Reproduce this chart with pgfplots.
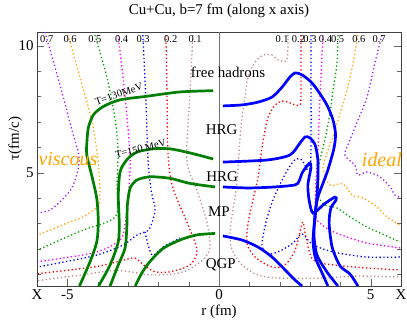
\documentclass[border=0pt]{standalone}
\usepackage{fontspec}
\setmainfont{Liberation Serif}
\usepackage{pgfplots}
\pgfplotsset{compat=1.18}
\usetikzlibrary{calc}
\definecolor{c07}{HTML}{A020F0}
\definecolor{c06}{HTML}{FFA500}
\definecolor{c05}{HTML}{00A000}
\definecolor{c04}{HTML}{FF00FF}
\definecolor{c03}{HTML}{0000FF}
\definecolor{c02}{HTML}{FF0000}
\definecolor{c01}{HTML}{BC8F8F}
\definecolor{visc}{HTML}{007F00}
\definecolor{ideal}{HTML}{0000FF}
\definecolor{word}{HTML}{FFA500}
\pgfplotsset{
  dots/.style={line width=1.3bp, dash pattern=on 1.3bp off 2.5bp, smooth, tension=0.5},
  iso/.style={line width=2.7bp, smooth, tension=0.45},
}
\newcommand\bigf{\fontsize{15}{18}\selectfont}
\newcommand\smlf{\fontsize{10.5}{12}\selectfont}
\begin{document}
\begin{tikzpicture}
\begin{axis}[
  width=364bp, height=254bp, scale only axis,
  xmin=-6, xmax=6, ymin=0.54, ymax=10.54,
  xtick={-6,-5,0,5,6}, xticklabels={X,-5,0,5,X},
  minor xtick={-4,-3,-2,-1,1,2,3,4},
  ytick={5,10}, minor ytick={1,2,3,4,6,7,8,9},
  xtick pos=left,
  tick align=inside, major tick length=7bp, minor tick length=4bp,
  axis line style={black!75, line width=0.8bp}, tick style={black!60},
  /pgf/number format/assume math mode=true,
  tick label style={font=\bigf},
  title={Cu+Cu, b=7 fm (along x axis)},
  title style={font=\bigf, at={(axis description cs:0.5,1)}, anchor=south, yshift=5bp},
  xlabel={r (fm)}, ylabel={τ(fm/c)},
  xlabel style={font=\bigf, at={(axis description cs:0.5,0)}, anchor=center, yshift=-26bp},
  ylabel style={font=\bigf, at={(axis description cs:-0.06,0.58)}, anchor=center},
  clip=false]
\coordinate (bl) at (rel axis cs:0,0);
\coordinate (tr) at (rel axis cs:1,1);
\addplot[black!55, line width=0.8bp] coordinates {(0,0.54) (0,10.54)};
% viscous side, velocity contours
\addplot[dots, c07] coordinates {(-5.74,10.54) (-5.24,8.45) (-4.85,6.68) (-4.62,5.70) (-4.65,5.11) (-4.85,4.40) (-5.18,3.93) (-5.57,3.53) (-5.97,3.41)};
\addplot[dots, c06] coordinates {(-4.98,10.42) (-4.58,8.73) (-4.19,7.04) (-3.99,5.50) (-3.92,4.04) (-4.02,3.65) (-4.48,3.26) (-5.01,3.02) (-5.57,2.74) (-5.97,2.55)};
\addplot[dots, c05] coordinates {(-4.09,10.42) (-3.69,8.73) (-3.43,7.15) (-3.33,5.89) (-3.36,4.59) (-3.36,3.41) (-3.69,3.06) (-4.48,2.74) (-5.24,2.35) (-5.97,1.96)};
\addplot[dots, c04] coordinates {(-3.33,10.42) (-3.10,8.06) (-2.93,5.50) (-3.00,4.00) (-3.10,2.94) (-3.26,2.35) (-4.02,1.88) (-5.14,1.64) (-5.97,1.50)};
\addplot[dots, c03] coordinates {(-2.51,10.42) (-2.41,7.86) (-2.34,5.50) (-2.24,4.32) (-2.11,3.53) (-2.28,2.82) (-2.44,2.67) (-2.70,2.55) (-3.17,2.15) (-4.02,1.76) (-5.14,1.48) (-5.97,1.29)};
\addplot[dots, c03] coordinates {(-2.44,2.67) (-2.21,1.76) (-1.85,2.07) (-1.29,2.43)};
\addplot[dots, c02] coordinates {(-1.75,10.42) (-1.71,7.86) (-1.68,5.70) (-1.52,4.40) (-1.06,3.06) (-0.73,1.96) (-0.96,1.37) (-1.62,1.10) (-2.11,1.10) (-2.44,1.33) (-2.77,1.64) (-3.10,1.57) (-3.92,1.33) (-4.91,1.17) (-5.97,1.03)};
\addplot[dots, c01] coordinates {(-0.86,10.42) (-0.96,8.06) (-1.06,5.50) (-0.73,4.32) (-0.40,3.06) (-0.30,2.04) (-0.53,1.57) (-1.06,1.15) (-1.60,1.00) (-2.30,0.98) (-2.93,1.10) (-3.49,1.15) (-4.58,0.97) (-5.97,0.75)};
% viscous isotherms
\addplot[iso, visc] coordinates {(-0.19,8.23) (-1.29,8.18) (-2.38,8.01) (-3.26,7.87) (-3.81,7.61) (-4.14,7.28) (-4.31,6.76) (-4.36,6.10) (-4.36,5.70) (-4.20,4.91) (-4.03,3.99) (-3.98,3.07) (-4.03,2.28) (-4.25,1.50) (-4.60,0.54)};
\addplot[iso, visc] coordinates {(-0.19,5.54) (-0.96,5.78) (-1.62,5.94) (-2.17,5.94) (-2.71,5.81) (-3.04,5.51) (-3.26,5.04) (-3.32,4.12) (-3.29,3.07) (-3.32,2.28) (-3.59,1.37) (-3.97,0.54)};
\addplot[iso, visc] coordinates {(-0.13,4.44) (-0.96,4.58) (-1.62,4.78) (-2.28,4.84) (-2.71,4.71) (-2.93,4.39) (-3.02,3.73) (-3.04,2.81) (-3.10,2.02) (-3.32,1.37) (-3.59,0.54)};
\addplot[iso, visc] coordinates {(-0.13,2.61) (-0.74,2.55) (-1.29,2.35) (-1.84,2.02) (-2.28,1.50) (-2.55,1.04) (-2.76,0.54)};
% ideal side, velocity contours
\addplot[dots, c01] coordinates {(2.27,10.42) (2.24,9.44) (1.95,9.44) (1.75,9.63) (1.45,9.63) (1.19,9.36) (0.96,8.77) (0.86,7.98) (0.76,7.19) (0.69,6.29) (0.59,4.59) (0.46,3.53) (0.36,2.63) (0.43,1.96) (0.76,1.37) (1.29,0.97) (2.01,0.85) (3.33,0.85) (4.55,0.93) (5.97,0.89)};
\addplot[dots, c02] coordinates {(2.70,10.42) (2.70,7.98) (2.67,7.67) (2.51,7.67) (2.27,7.78) (2.08,7.82) (1.85,7.67) (1.62,7.19) (1.52,6.68) (1.42,6.01) (1.29,4.83) (1.12,3.93) (0.96,3.02) (0.92,2.23) (1.19,1.68) (1.75,1.29) (2.18,1.37) (2.51,1.96) (2.67,2.67) (2.77,3.06) (2.87,2.43) (3.10,1.57) (3.76,1.37) (4.88,1.25) (5.97,1.17)};
\addplot[dots, c03] coordinates {(3.03,10.42) (3.03,5.70) (2.93,5.11) (2.74,5.50) (2.54,5.54) (2.34,5.26) (2.08,4.71) (1.78,3.93) (1.55,3.06) (1.42,2.15) (1.62,1.80) (2.01,1.92) (2.44,2.23) (2.74,2.59) (3.07,2.19) (3.76,1.88) (4.88,1.68) (5.97,1.68)};
\addplot[dots, c04] coordinates {(3.43,10.42) (3.33,7.98) (3.26,5.78) (3.20,4.71) (3.17,3.73) (3.23,3.14) (3.66,2.74) (4.22,2.47) (4.88,2.23) (5.97,2.04)};
\addplot[dots, c05] coordinates {(3.92,10.42) (3.89,9.32) (3.76,8.26) (3.66,7.35) (3.49,6.29) (3.33,5.50) (3.23,4.71) (3.26,4.12) (3.49,3.73) (3.89,3.61) (4.32,3.26) (4.88,2.86) (5.31,2.63) (5.97,2.27)};
\addplot[dots, c06] coordinates {(4.58,10.42) (4.42,9.32) (4.22,8.26) (3.99,7.35) (3.76,6.41) (3.59,5.89) (3.43,5.19) (3.66,4.52) (4.09,4.56) (4.39,4.12) (4.75,4.00) (5.21,3.65) (5.54,3.26) (5.97,2.94)};
\addplot[dots, c07] coordinates {(5.37,10.42) (5.14,9.32) (4.88,7.98) (4.58,7.07) (4.32,6.29) (4.15,5.70) (4.48,5.30) (4.58,4.91) (4.88,5.03) (5.31,4.83) (5.64,4.44) (5.80,4.12) (5.99,4.04)};
% ideal isotherms
\addplot[iso, ideal] coordinates {(0.13,7.63) (0.76,7.67) (1.29,7.78) (1.75,7.98) (2.08,8.37) (2.34,8.77) (2.51,8.93) (2.74,8.85) (3.07,8.53) (3.40,7.98) (3.59,7.59) (3.76,7.07) (3.84,6.56) (3.82,6.17) (3.76,5.81) (3.59,5.11) (3.43,4.59) (3.26,4.04) (3.17,3.45) (3.13,2.55) (3.23,1.76) (3.56,1.09) (3.92,0.54)};
\addplot[iso, ideal] coordinates {(0.13,5.42) (1.58,5.50) (2.34,5.70) (2.67,6.17) (2.84,6.41) (3.00,6.37) (3.17,6.09) (3.26,5.50) (3.26,4.71) (3.22,3.93) (3.17,3.26) (3.10,2.35) (3.17,1.68) (3.40,1.05) (3.59,0.54)};
\addplot[iso, ideal] coordinates {(0.13,4.44) (0.96,4.40) (1.85,4.44) (2.51,4.52) (2.64,4.67) (2.74,4.99) (2.87,5.22) (3.00,5.38) (3.03,5.19) (2.93,4.52) (2.97,3.93) (3.10,3.41) (3.46,3.76) (3.82,4.04) (3.86,3.93) (3.69,3.61) (3.63,3.02) (3.73,2.07) (3.99,1.33) (4.32,1.01) (4.58,0.54)};
\addplot[iso, ideal] coordinates {(0.13,2.51) (0.76,2.35) (1.29,2.07) (1.75,1.68) (2.18,1.17) (2.51,0.77) (2.74,0.54)};
% labels
\node[font=\bigf] at (axis cs:0.30,8.96) {free hadrons};
\node[font=\bigf] at (axis cs:0.09,6.68) {HRG};
\node[font=\bigf] at (axis cs:0.10,4.84) {HRG};
\node[font=\bigf] at (axis cs:0.00,3.46) {MP};
\node[font=\bigf] at (axis cs:0.06,1.37) {QGP};
\node[font=\smlf, rotate=19, inner sep=0pt] at (axis cs:-3.30,8.10) {T=130MeV};
\node[font=\smlf, rotate=14, inner sep=0pt] at (axis cs:-2.58,5.94) {T=150 MeV};
\node[font=\fontsize{20}{22}\selectfont\itshape, text=word] at (axis cs:-4.98,5.55) {viscous};
\node[font=\fontsize{20}{22}\selectfont\itshape, text=word] at (axis cs:5.37,5.52) {ideal};
% velocity labels along the top
\node[font=\smlf, inner sep=0pt] at (axis cs:-5.68,10.25) {0.7};
\node[font=\smlf, inner sep=0pt] at (axis cs:-4.91,10.25) {0.6};
\node[font=\smlf, inner sep=0pt] at (axis cs:-4.09,10.25) {0.5};
\node[font=\smlf, inner sep=0pt] at (axis cs:-3.21,10.25) {0.4};
\node[font=\smlf, inner sep=0pt] at (axis cs:-2.50,10.25) {0.3};
\node[font=\smlf, inner sep=0pt] at (axis cs:-1.59,10.25) {0.2};
\node[font=\smlf, inner sep=0pt] at (axis cs:-0.79,10.25) {0.1};
\node[font=\smlf, inner sep=0pt] at (axis cs:2.08,10.25) {0.1};
\node[font=\smlf, inner sep=0pt] at (axis cs:2.62,10.25) {0.2};
\node[font=\smlf, inner sep=0pt] at (axis cs:3.00,10.25) {0.3};
\node[font=\smlf, inner sep=0pt] at (axis cs:3.51,10.25) {0.4};
\node[font=\smlf, inner sep=0pt] at (axis cs:3.91,10.25) {0.5};
\node[font=\smlf, inner sep=0pt] at (axis cs:4.61,10.25) {0.6};
\node[font=\smlf, inner sep=0pt] at (axis cs:5.28,10.25) {0.7};
\end{axis}
\pgfresetboundingbox
\path ($(bl)+(-37bp,-38bp)$) rectangle ($(tr)+(6bp,32bp)$);
\end{tikzpicture}
\end{document}
